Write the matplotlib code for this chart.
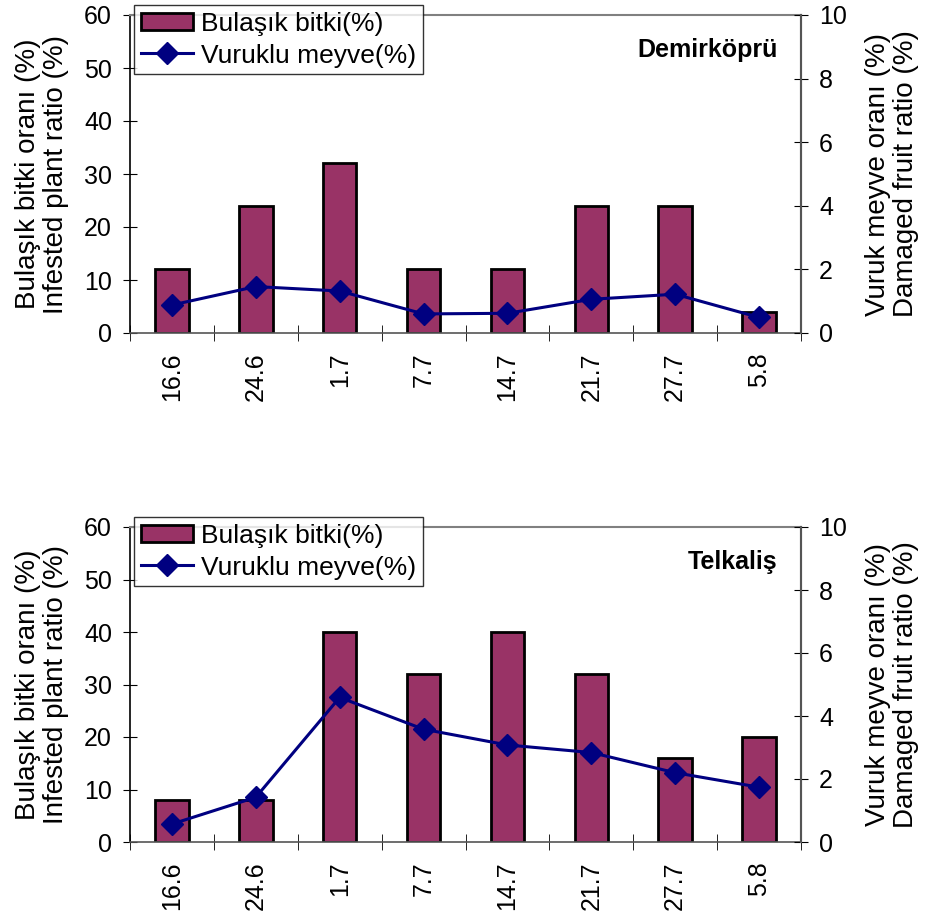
import matplotlib
matplotlib.use("Agg")
import matplotlib.pyplot as plt
import numpy as np

plt.rcParams["font.family"] = ["Liberation Sans", "DejaVu Sans"]

dates = ["16.6", "24.6", "1.7", "7.7", "14.7", "21.7", "27.7", "5.8"]

demir_infested = [12, 24, 32, 12, 12, 24, 24, 4]
demir_damaged = [0.88, 1.46, 1.32, 0.60, 0.62, 1.06, 1.22, 0.49]

telk_infested = [8, 8, 40, 32, 40, 32, 16, 20]
telk_damaged = [0.57, 1.42, 4.59, 3.58, 3.08, 2.84, 2.20, 1.74]

BAR_C = "#993366"
LINE_C = "#000080"
FS_TICK = 18
FS_LEG = 19
FS_LAB = 20

fig = plt.figure(figsize=(9.26, 9.23), dpi=100)
W, H = 926, 923


def panel(top_px, bot_px, infested, damaged, site):
    ax = fig.add_axes([130 / W, 1 - bot_px / H, (801 - 130) / W, (bot_px - top_px) / H])
    x = np.arange(len(dates))
    bars = ax.bar(x, infested, width=0.4, color=BAR_C, edgecolor="black", lw=2,
                  zorder=2)
    ax.set_xlim(-0.5, len(dates) - 0.5)
    ax.set_ylim(0, 60)
    ax.set_yticks(range(0, 61, 10))
    ax.set_xticks(x)
    ax.set_xticklabels(dates, rotation=90, fontsize=FS_TICK)
    ax.tick_params(axis="x", length=0, pad=14)
    # category separators on the x axis
    ax.set_xticks(np.arange(-0.5, len(dates) + 0.5, 1), minor=True)
    ax.tick_params(axis="x", which="minor", direction="inout", length=12, color="black")
    ax.tick_params(axis="y", direction="inout", length=10, labelsize=FS_TICK, pad=8)
    ax.set_ylabel("Bulaşık bitki oranı (%)\nInfested plant ratio (%)", fontsize=FS_LAB,
                  labelpad=11, linespacing=1.1)
    for s in ["top", "right"]:
        ax.spines[s].set_color("#808080")
        ax.spines[s].set_linewidth(1.5)
    for s in ["left", "bottom"]:
        ax.spines[s].set_linewidth(1.2)
    ax.spines["bottom"].set_color("#555555")

    ax2 = ax.twinx()
    line, = ax2.plot(x, damaged, color=LINE_C, lw=2.2, marker="D", ms=11, zorder=3)
    ax2.set_ylim(0, 10)
    ax2.set_yticks(range(0, 11, 2))
    ax2.tick_params(axis="y", direction="inout", length=10, labelsize=FS_TICK, pad=8)
    ax2.set_ylabel("Vuruk meyve oranı (%)\nDamaged fruit ratio (%)", fontsize=FS_LAB,
                   labelpad=13, linespacing=1.1)
    for s in ax2.spines.values():
        s.set_visible(False)
    ax2.spines["right"].set_visible(True)
    ax2.spines["right"].set_color("#555555")
    ax2.spines["right"].set_linewidth(1.5)

    ax2.text(0.965, 0.89, site, transform=ax.transAxes, ha="right", va="center",
             fontsize=FS_TICK, fontweight="bold")

    leg = ax2.legend([bars, line], ["Bulaşık bitki(%)", "Vuruklu meyve(%)"],
                     loc="upper left", bbox_to_anchor=(134 / W, 1 - (top_px - 10) / H),
                     bbox_transform=fig.transFigure, fontsize=FS_LEG, frameon=True,
                     fancybox=False, borderpad=0.25, labelspacing=0.3,
                     handlelength=2.0, handleheight=0.65, handletextpad=0.3,
                     borderaxespad=0)
    leg.get_frame().set_edgecolor("black")
    leg.get_frame().set_linewidth(1.0)
    return ax, ax2


panel(15, 333, demir_infested, demir_damaged, "Demirköprü")
panel(527, 842, telk_infested, telk_damaged, "Telkaliş")

fig.savefig("out.png", dpi=100)
